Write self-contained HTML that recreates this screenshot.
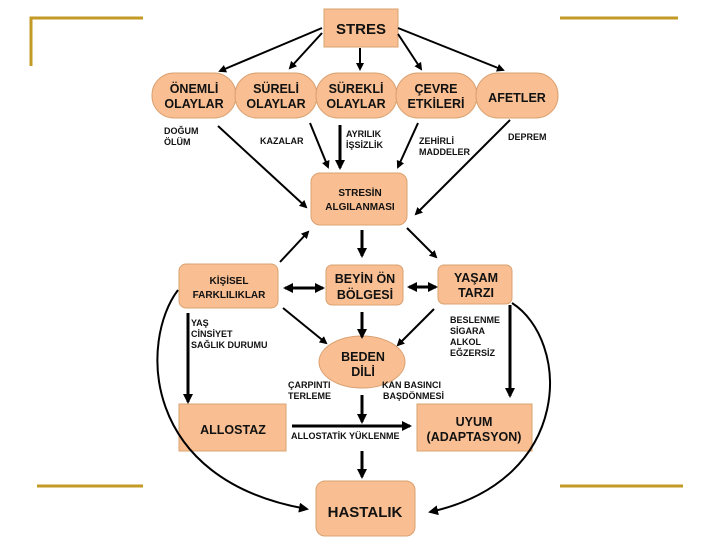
<!DOCTYPE html>
<html><head><meta charset="utf-8"><style>
html,body{margin:0;padding:0;background:#fff;}
svg{display:block}
text{font-family:"Liberation Sans",sans-serif;font-weight:bold;fill:#111;}
</style></head><body>
<svg width="720" height="540" viewBox="0 0 720 540" xmlns="http://www.w3.org/2000/svg">
<defs>
<marker id="a" markerWidth="8" markerHeight="8" refX="6" refY="4" orient="auto" markerUnits="userSpaceOnUse"><path d="M0,0 L8,4 L0,8 z" fill="#000"/></marker>
<marker id="b" markerWidth="10" markerHeight="10" refX="8" refY="5" orient="auto" markerUnits="userSpaceOnUse"><path d="M0,0 L10,5 L0,10 z" fill="#000"/></marker>
<marker id="s" markerWidth="10" markerHeight="10" refX="2" refY="5" orient="auto" markerUnits="userSpaceOnUse"><path d="M10,0 L0,5 L10,10 z" fill="#000"/></marker>
</defs>
<g stroke="#c39a26" stroke-width="3" fill="none">
<path d="M31,66 V18 H143"/>
<path d="M560,18 H678"/>
<path d="M37,486 H143"/>
<path d="M560,486 H683"/>
</g>
<g fill="#f9bf92" stroke="#d9a070" stroke-width="1">
<rect x="324" y="9" width="74" height="38"/>
<rect x="152" y="73" width="84" height="45" rx="22"/>
<rect x="235" y="73" width="82" height="45" rx="22"/>
<rect x="316" y="73" width="81" height="45" rx="22"/>
<rect x="396" y="73" width="81" height="45" rx="22"/>
<rect x="476" y="73" width="82" height="45" rx="22"/>
<rect x="311" y="173" width="96" height="52" rx="9"/>
<rect x="179" y="264" width="99" height="44" rx="7"/>
<rect x="326" y="265" width="77" height="40" rx="6"/>
<rect x="438" y="265" width="74" height="39" rx="6"/>
<ellipse cx="362" cy="362" rx="43" ry="26"/>
<rect x="179" y="404" width="107" height="47"/>
<rect x="417" y="404" width="115" height="47"/>
<rect x="316" y="481" width="99" height="55" rx="9"/>
</g>
<g stroke="#000" fill="none">
<g stroke-width="2" marker-end="url(#a)">
<line x1="322" y1="28" x2="220" y2="71"/>
<line x1="322" y1="33" x2="290" y2="68"/>
<line x1="360" y1="48" x2="360" y2="69"/>
<line x1="398" y1="34" x2="421" y2="69"/>
<line x1="398" y1="28" x2="503" y2="70"/>
<line x1="218" y1="126" x2="306" y2="207"/>
<line x1="310" y1="123" x2="328" y2="167"/>
<line x1="407" y1="228" x2="436" y2="257"/>
<line x1="280" y1="262" x2="308" y2="232"/>
<line x1="283" y1="308" x2="326" y2="343"/>
<line x1="434" y1="309" x2="398" y2="345"/>
<line x1="510" y1="120" x2="416" y2="214"/>
<line x1="418" y1="123" x2="398" y2="167"/>
</g>
<g stroke-width="3" marker-end="url(#b)">
<line x1="340" y1="125" x2="340" y2="168"/>
<line x1="362" y1="230" x2="362" y2="256"/>
<line x1="362" y1="312" x2="362" y2="337"/>
<line x1="188" y1="313" x2="188" y2="402"/>
<line x1="510" y1="305" x2="510" y2="396"/>
<line x1="362" y1="395" x2="362" y2="422"/>
<line x1="292" y1="426" x2="410" y2="426"/>
<line x1="362" y1="451" x2="362" y2="477"/>
<line x1="285" y1="288" x2="323" y2="288" marker-start="url(#s)"/>
<line x1="409" y1="287" x2="436" y2="287" marker-start="url(#s)"/>
</g>
<path d="M178,290 C140,340 140,480 307,509" stroke-width="2" marker-end="url(#b)"/>
<path d="M512,303 C570,340 575,480 430,512" stroke-width="2" marker-end="url(#b)"/>
</g>
<g font-size="15" text-anchor="middle">
<text x="361" y="34">STRES</text>
<text x="365" y="517">HASTALIK</text>
</g>
<g font-size="12.5" text-anchor="middle">
<text x="194" y="93">ÖNEMLİ</text><text x="194" y="108">OLAYLAR</text>
<text x="276" y="93">SÜRELİ</text><text x="276" y="108">OLAYLAR</text>
<text x="356" y="93">SÜREKLİ</text><text x="356" y="108">OLAYLAR</text>
<text x="436" y="93">ÇEVRE</text><text x="436" y="108">ETKİLERİ</text>
<text x="517" y="102">AFETLER</text>
<text x="365" y="283">BEYİN ÖN</text><text x="365" y="299">BÖLGESİ</text>
<text x="476" y="282">YAŞAM</text><text x="476" y="297">TARZI</text>
<text x="363" y="361">BEDEN</text><text x="363" y="376">DİLİ</text>
<text x="233" y="434">ALLOSTAZ</text>
<text x="474" y="426">UYUM</text><text x="474" y="441">(ADAPTASYON)</text>
</g>
<g font-size="10" text-anchor="middle">
<text x="360" y="196">STRESİN</text><text x="360" y="210">ALGILANMASI</text>
<text x="229" y="284">KİŞİSEL</text><text x="229" y="298">FARKLILIKLAR</text>
</g>
<g font-size="9">
<text x="164" y="134">DOĞUM</text><text x="164" y="145">ÖLÜM</text>
<text x="260" y="144">KAZALAR</text>
<text x="346" y="137">AYRILIK</text><text x="346" y="148">İŞSİZLİK</text>
<text x="419" y="144">ZEHİRLİ</text><text x="419" y="155">MADDELER</text>
<text x="508" y="140">DEPREM</text>
<text x="191" y="326">YAŞ</text><text x="191" y="337">CİNSİYET</text><text x="191" y="348">SAĞLIK DURUMU</text>
<text x="450" y="323">BESLENME</text><text x="450" y="334">SİGARA</text><text x="450" y="345">ALKOL</text><text x="450" y="356">EĞZERSİZ</text>
<text x="288" y="388">ÇARPINTI</text><text x="288" y="399">TERLEME</text>
<text x="382" y="388">KAN BASINCI</text><text x="383" y="399">BAŞDÖNMESİ</text>
<text x="291" y="439">ALLOSTATİK YÜKLENME</text>
</g>
</svg>
</body></html>
